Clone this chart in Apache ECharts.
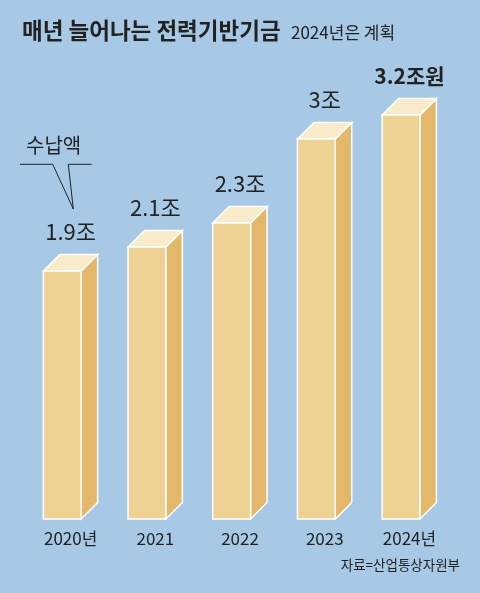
<!DOCTYPE html>
<html>
<head>
<meta charset="utf-8">
<script src="https://cdn.jsdelivr.net/npm/echarts@6/dist/echarts.min.js"></script>
<style>
html,body{margin:0;padding:0;background:#a7c9e6;}
#chart{width:480px;height:593px;}
</style>
</head>
<body>
<div id="chart"></div>
<script>
const categories = ['2020년', '2021', '2022', '2023', '2024년'];
const values = [1.9, 2.1, 2.3, 3, 3.2];
const valueLabels = ['1.9조', '2.1조', '2.3조', '3조', '3.2조원'];
const titleText = '매년 늘어나는 전력기반기금';
const subtitleText = '2024년은 계획';
const sourceText = '자료=산업통상자원부';
const noteText = '수납액';

const Y_MIN = -1 / 6;
const Y_MAX = 3.5;
const NUM_FONT = "'Liberation Sans Narrow', 'Noto Sans CJK KR', sans-serif";
const KR_FONT = "'Noto Sans CJK KR', sans-serif";
const TEXT_COLOR = '#222222';

const chart = echarts.init(document.getElementById('chart'), null, {renderer: 'canvas'});

function renderItem(params, api) {
  const idx = api.value(0);
  const val = api.value(1);
  const topPt = api.coord([idx, val]);
  const basePt = api.coord([idx, Y_MIN]);
  const cx = topPt[0];
  const top = topPt[1];
  const base = basePt[1];
  const fl = cx - 27.3;
  const fr = cx + 10.5;
  const dx = 16.5, dy = 16.5;
  const stroke = {stroke: '#ffffff', lineWidth: 1.5, lineJoin: 'miter'};
  const isLast = params.dataIndex === values.length - 1;
  return {
    type: 'group',
    children: [
      {
        type: 'polygon',
        shape: {points: [[fr, top], [fr + dx, top - dy], [fr + dx, base - dy], [fr, base]]},
        style: Object.assign({fill: '#e3b86b'}, stroke)
      },
      {
        type: 'polygon',
        shape: {points: [[fl, top], [fl + dx, top - dy], [fr + dx, top - dy], [fr, top]]},
        style: Object.assign({fill: '#f9ecca'}, stroke)
      },
      {
        type: 'rect',
        shape: {x: fl, y: top, width: fr - fl, height: base - top},
        style: Object.assign({fill: '#edd294'}, stroke)
      },
      {
        type: 'text',
        x: cx,
        y: top - dy - 22.5,
        style: {
          text: valueLabels[params.dataIndex],
          fill: TEXT_COLOR,
          font: (isLast ? 'bold 21px ' : '22px ') + NUM_FONT,
          align: 'center',
          verticalAlign: 'middle'
        }
      }
    ]
  };
}

const option = {
  backgroundColor: '#a7c9e6',
  animation: false,
  grid: {left: 28.3, right: 28.2, top: 79, bottom: 593 - 519},
  xAxis: {
    type: 'category',
    data: categories,
    axisLine: {show: false},
    axisTick: {show: false},
    axisLabel: {
      margin: 11,
      fontSize: 17,
      color: TEXT_COLOR,
      fontFamily: NUM_FONT
    }
  },
  yAxis: {
    type: 'value',
    min: Y_MIN,
    max: Y_MAX,
    show: false,
    splitLine: {show: false}
  },
  series: [{
    type: 'custom',
    renderItem: renderItem,
    data: values.map((v, i) => [i, v]),
    clip: false
  }],
  graphic: [
    {
      type: 'text', left: 22, top: 19,
      style: {text: titleText, font: 'bold 22.5px ' + KR_FONT, fill: TEXT_COLOR}
    },
    {
      type: 'text', left: 291, top: 24,
      style: {text: subtitleText, font: '17px ' + NUM_FONT, fill: TEXT_COLOR}
    },
    {
      type: 'text', right: 20, top: 558,
      style: {text: sourceText, font: '13.5px ' + KR_FONT, fill: TEXT_COLOR}
    },
    {
      type: 'text', left: 26, top: 135,
      style: {text: noteText, font: '20px ' + KR_FONT, fill: TEXT_COLOR}
    },
    {
      type: 'polyline',
      shape: {points: [[20, 164.3], [52.7, 164.3], [73.3, 209], [68.3, 164.3], [91.7, 164.3]]},
      style: {stroke: '#222222', lineWidth: 1, fill: null}
    }
  ]
};
chart.setOption(option);
</script>
</body>
</html>
